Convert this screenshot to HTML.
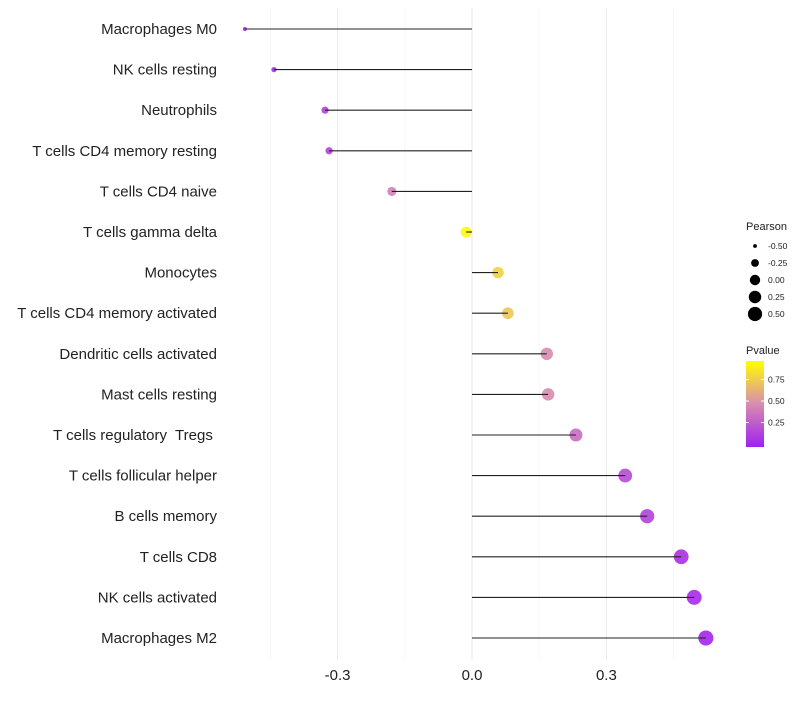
<!DOCTYPE html>
<html><head><meta charset="utf-8"><style>
body{margin:0;background:#fff;font-family:"Liberation Sans",sans-serif}
text{white-space:pre}
</style></head><body>
<svg id="c" width="800" height="700" xmlns="http://www.w3.org/2000/svg"></svg>
<script>
const categories=["Macrophages M0","NK cells resting","Neutrophils","T cells CD4 memory resting","T cells CD4 naive","T cells gamma delta","Monocytes","T cells CD4 memory activated","Dendritic cells activated","Mast cells resting","T cells regulatory  Tregs ","T cells follicular helper","B cells memory","T cells CD8","NK cells activated","Macrophages M2"];
const pearson=[-0.507,-0.442,-0.328,-0.319,-0.179,-0.013,0.058,0.080,0.167,0.170,0.232,0.342,0.391,0.467,0.496,0.522];
const pvalue=[0.02,0.05,0.15,0.15,0.45,0.97,0.8,0.75,0.5,0.5,0.35,0.2,0.15,0.07,0.05,0.03];
const xTicks=[-0.3,0,0.3];
const xTickLabels=["-0.3","0.0","0.3"];
const sizeLegend=[-0.5,-0.25,0,0.25,0.5];
const sizeLegendLabels=["-0.50","-0.25","0.00","0.25","0.50"];
const colorTicks=[0.25,0.5,0.75];

const NS="http://www.w3.org/2000/svg";
const svg=document.getElementById('c');
function el(t,a,p){const e=document.createElementNS(NS,t);for(const k in a)e.setAttribute(k,a[k]);(p||svg).appendChild(e);return e;}
const x=v=>472+v*448;
const y=i=>29+i*40.6;
const r=v=>Math.sqrt(Math.max(4,4+(v+0.5)*52));
function lerp(a,b,t){return a.map((c,i)=>Math.round(c+(b[i]-c)*t));}
function col(p){const s=[[160,32,240],[216,140,176],[255,255,0]];let c=p<0.5?lerp(s[0],s[1],p/0.5):lerp(s[1],s[2],(p-0.5)/0.5);return `rgb(${c.join(',')})`;}
[-0.45,-0.15,0.15,0.45].forEach(v=>{const g=el('line',{x1:x(v),x2:x(v),y1:8,y2:660,stroke:'#f3f3f3','stroke-width':0.6});});
xTicks.forEach((v,i)=>{const g=el('line',{x1:x(v),x2:x(v),y1:8,y2:660,stroke:'#ebebeb','stroke-width':1.1});
const t=el('text',{x:x(v),y:680,'text-anchor':'middle','font-size':15,fill:'#222'});t.textContent=xTickLabels[i];});
categories.forEach((c,i)=>{
const t=el('text',{x:217,y:y(i)+5,'text-anchor':'end','font-size':15,fill:'#222'});t.textContent=c;
const pt=el('circle',{cx:x(pearson[i]),cy:y(i),r:r(pearson[i]),fill:col(pvalue[i]),'fill-opacity':0.9});
const ln=el('line',{x1:x(0),x2:x(pearson[i]),y1:y(i),y2:y(i),stroke:'#222','stroke-width':1.1});
});
const lt=el('text',{x:746,y:230,'font-size':11,fill:'#222'});lt.textContent='Pearson';
sizeLegend.forEach((v,i)=>{const cy=246+i*17;const c=el('circle',{cx:755,cy:cy,r:r(v)*0.95,fill:'#000'});
const t=el('text',{x:768,y:cy+3,'font-size':8.5,fill:'#222'});t.textContent=sizeLegendLabels[i];});
const pt2=el('text',{x:746,y:354,'font-size':11,fill:'#222'});pt2.textContent='Pvalue';
const defs=el('defs',{});const gr=el('linearGradient',{id:'g',x1:0,y1:1,x2:0,y2:0},defs);
[[0,0],[0.5,0.5],[1,1]].forEach(s=>el('stop',{offset:s[0],'stop-color':col(s[1])},gr));
const bar=el('rect',{x:746,y:361,width:18,height:86,fill:'url(#g)'});
colorTicks.forEach(v=>{const cy=444-v*86;el('line',{x1:746,x2:749,y1:cy,y2:cy,stroke:'#fff'});el('line',{x1:761,x2:764,y1:cy,y2:cy,stroke:'#fff'});
const t=el('text',{x:768,y:cy+3,'font-size':8.5,fill:'#222'});t.textContent=v.toFixed(2);});
</script>
</body></html>
